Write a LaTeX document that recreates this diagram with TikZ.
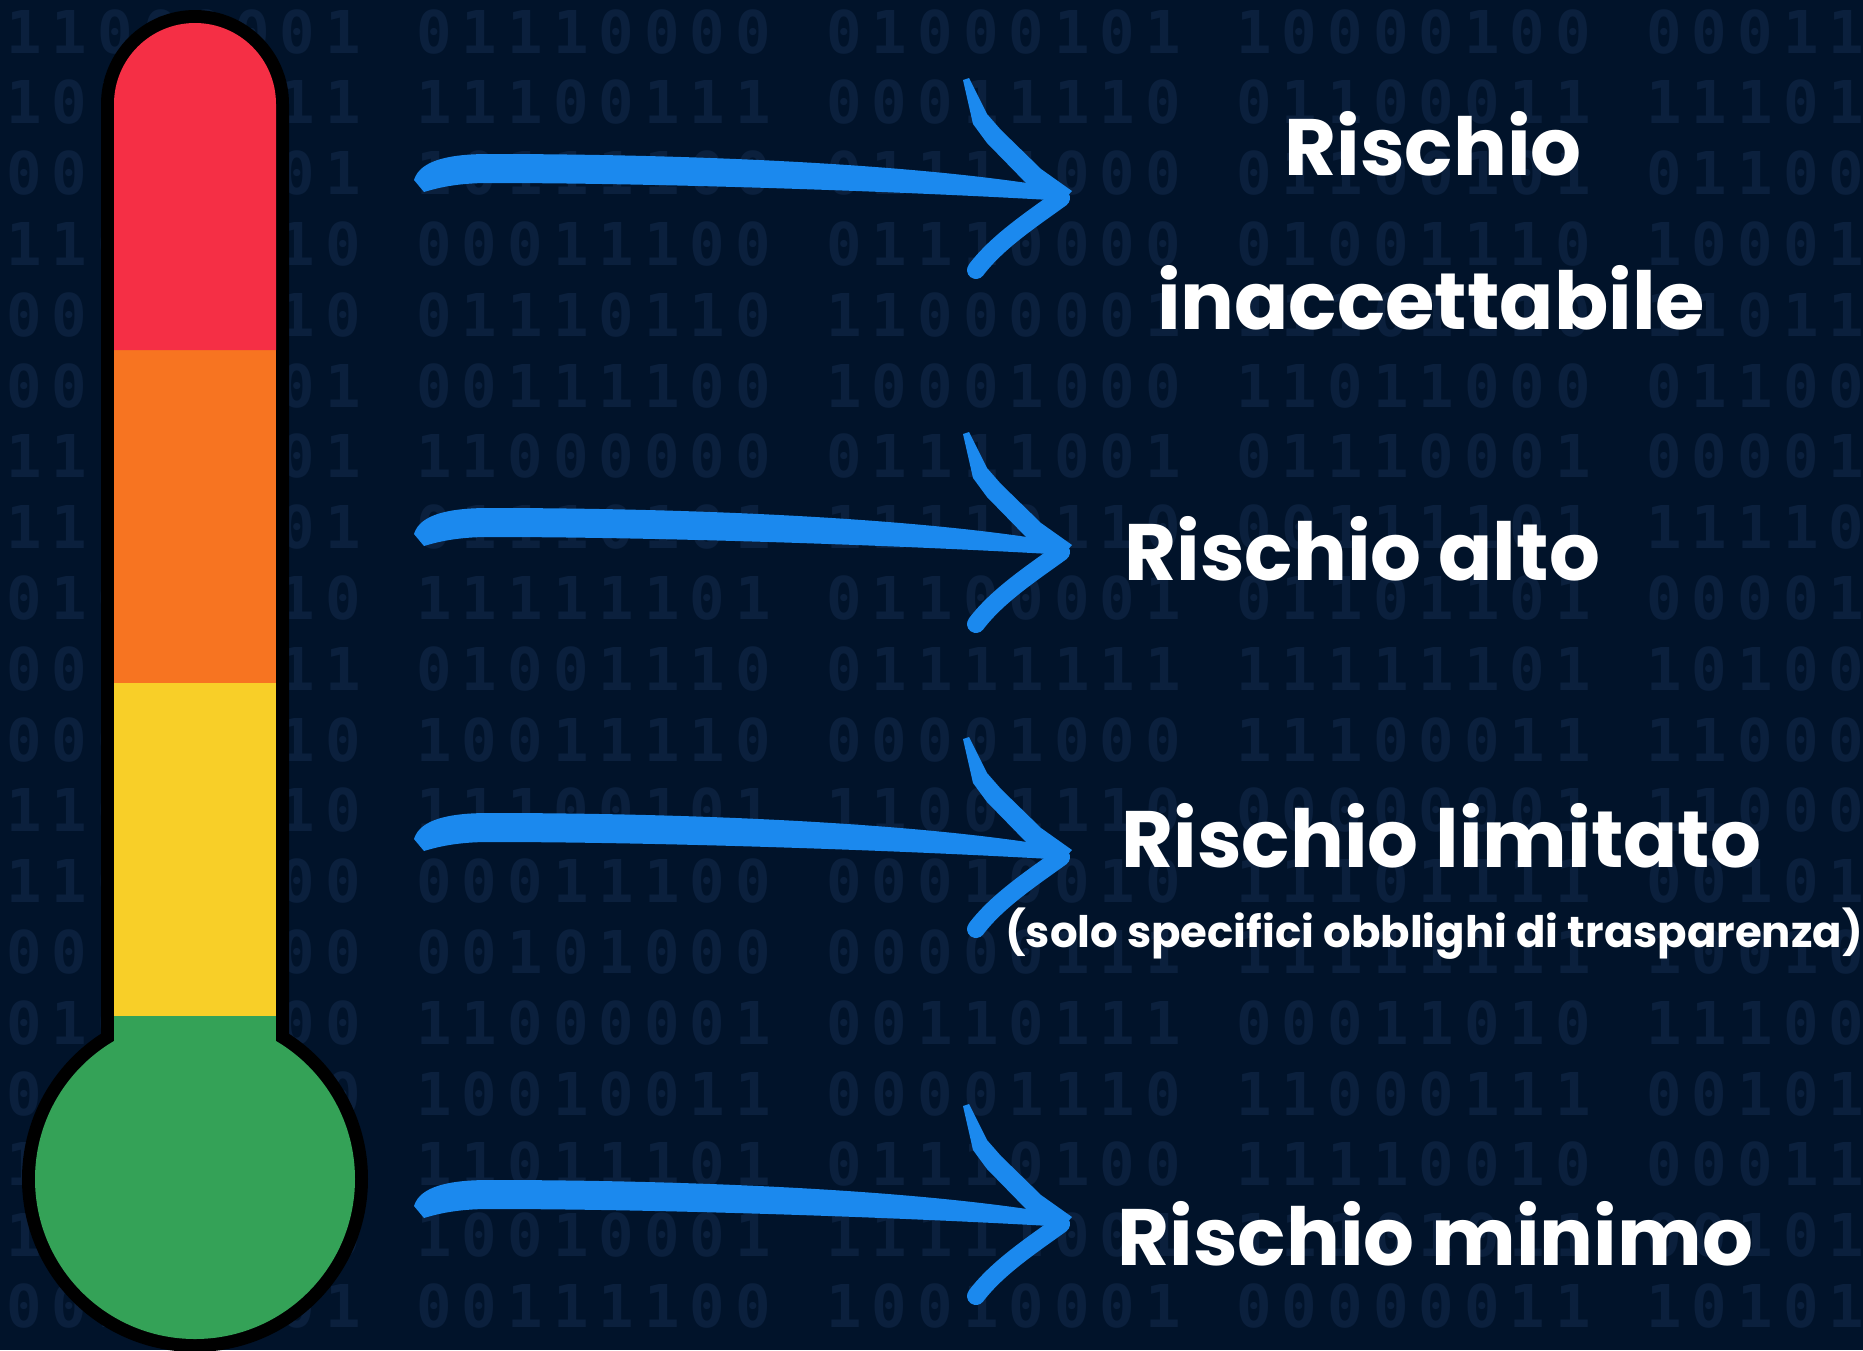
\documentclass[tikz,border=0pt]{standalone}
\usepackage{fontspec}
\newfontfamily\labfont{Poppins}
\newfontfamily\binfont[LetterSpace=17.1]{DejaVu Sans Mono}
\definecolor{bgnavy}{RGB}{1,19,42}
\definecolor{bincol}{RGB}{11,32,61}
\definecolor{arrowblue}{RGB}{27,137,238}
\definecolor{thred}{RGB}{245,47,69}
\definecolor{thorange}{RGB}{247,116,33}
\definecolor{thyellow}{RGB}{248,207,40}
\definecolor{thgreen}{RGB}{52,162,87}
\tikzset{
  bin/.style={anchor=base west, inner sep=0pt, text=bincol,
    font=\binfont\bfseries\fontsize{29.5}{30}\selectfont},
  lab/.style={inner sep=0pt, text=white,
    font=\labfont\bfseries\fontsize{40}{48}\selectfont},
  sublab/.style={inner sep=0pt, text=white,
    font=\labfont\bfseries\fontsize{21.7}{26}\selectfont},
  brusharrow/.pic={
    % shaft
    \fill[arrowblue] (-653,-14) .. controls (-647,-34) and (-617,-40) .. (-578,-40)
      .. controls (-400,-40) and (-150,-32) .. (3,-4) -- (0,7)
      .. controls (-150,-2) and (-400,-11) .. (-578,-11)
      .. controls (-610,-11) and (-630,-6) .. (-643,-2) -- cycle;
    % upper barb
    \fill[arrowblue] (-104,-114) -- (-94,-70) -- (-80,-51) -- (-40,-10) -- (-5,8)
      -- (5,-3) -- (-26,-25) -- (-66,-64) -- (-80,-80) -- (-98,-116) -- cycle;
    % lower barb
    \draw[arrowblue, line width=9pt, line cap=round] (-6,4)
      .. controls (-35,25) and (-70,48) .. (-91,76);
  }
}
\begin{document}
\begin{tikzpicture}[x=0.5pt,y=-0.5pt]
\useasboundingbox (0,0) rectangle (1863,1350);
\fill[bgnavy] (0,0) rectangle (1863,1350);

% background binary texture
\foreach \row [count=\r from 0] in {
 {11000001,01110000,01000101,10000100,00011101},
 {10110011,11100111,00011110,01100011,11101001},
 {00110001,10111100,01111000,01100101,01100110},
 {11000010,00011100,01110000,01001110,10001101},
 {00110010,01110110,11000001,11101110,11011010},
 {00111001,00111100,10001000,11011000,01100001},
 {11110001,11000000,01111001,01110001,00001001},
 {11100101,01110101,11110110,00111101,11110111},
 {01000110,11111101,01100001,01101101,00001010},
 {00110111,01001110,01111111,11111101,10100101},
 {00011110,10011110,00001000,11100011,11000100},
 {11000010,11100101,11001110,00000001,11000111},
 {11001100,00011100,00010010,11101111,00101010},
 {00110100,00101000,00000111,11111111,10010010},
 {01011100,11000001,00110111,00011010,11100111},
 {00111010,10010011,00001110,11000111,00101101},
 {11011100,11011101,01110100,11110010,00011100},
 {10001010,10010001,11111001,11101011,00101001},
 {00111001,00111100,10010001,00000011,10101011}} {
  \foreach \g [count=\c from 0] in \row {
    \node[bin] (b\r c\c) at ({6+410*\c},{53+70.8*\r}) {\g};
  }
}

% thermometer
\fill[black] (195,1179) circle[radius=173];
\fill[black] (101,1100) -- (101,104) arc[start angle=180,end angle=360,radius=94] -- (289,1100) -- cycle;
\fill[thgreen] (195,1179) circle[radius=160];
\fill[thgreen] (114,1016) rectangle (276,1100);
\fill[thyellow] (114,683) rectangle (276,1016);
\fill[thorange] (114,350) rectangle (276,683);
\fill[thred] (114,350) -- (114,104) arc[start angle=180,end angle=360,radius=81] -- (276,350) -- cycle;

% arrows
\coordinate (tip1) at (1067,194);
\coordinate (tip2) at (1067,548);
\coordinate (tip3) at (1067,853);
\coordinate (tip4) at (1067,1220);
\pic at (tip1) {brusharrow};
\pic at (tip2) {brusharrow};
\pic at (tip3) {brusharrow};
\pic at (tip4) {brusharrow};

% labels
\node[lab, anchor=base] (t1) at (1433,175) {Rischio};
\node[lab, anchor=base] (t1b) at (1431,329) {inaccettabile};
\node[lab, anchor=base west] (t2) at (1124,580) {Rischio alto};
\node[lab, anchor=base west] (t3) at (1121,867) {Rischio limitato};
\node[sublab, anchor=base] (t3s) at (1434,947) {(solo specifici obblighi di trasparenza)};
\node[lab, anchor=base west] (t4) at (1117,1265) {Rischio minimo};
\end{tikzpicture}
\end{document}
